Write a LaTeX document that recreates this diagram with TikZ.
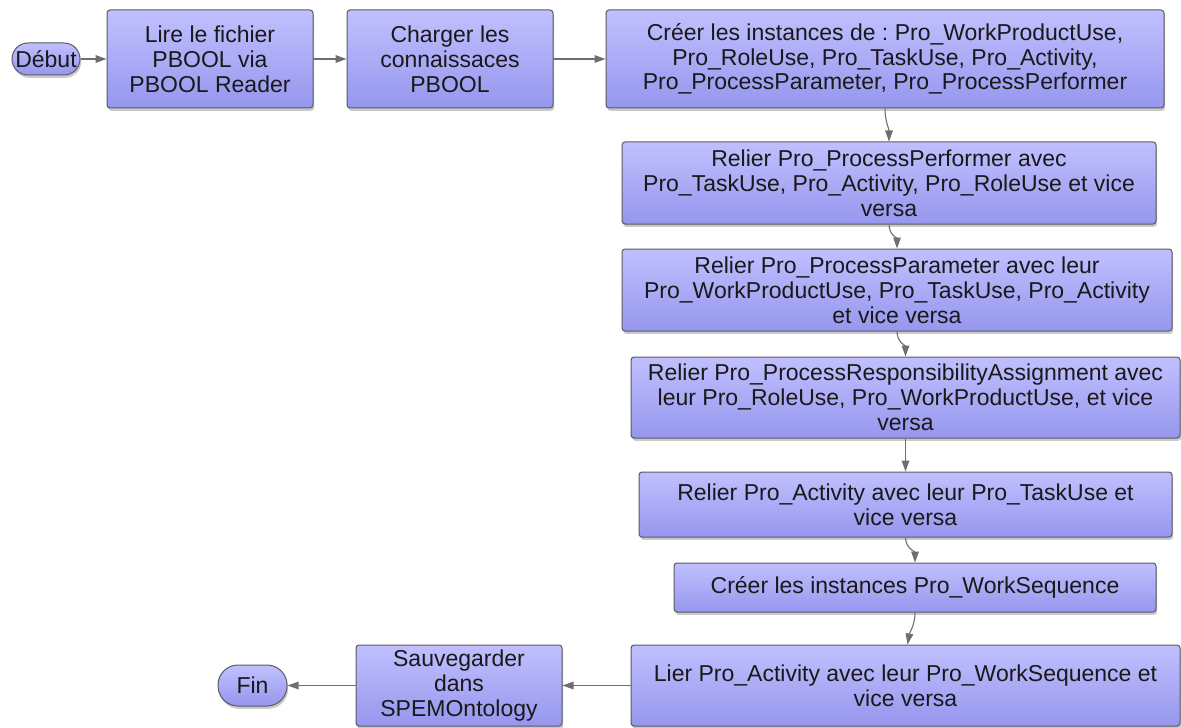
\documentclass[tikz,border=0pt]{standalone}
\usepackage{fontspec}
\setmainfont{Liberation Sans}
\usepackage{tikz}
\usetikzlibrary{arrows.meta,shadows,positioning,calc}
\frenchspacing

\definecolor{boxtop}{RGB}{192,192,255}
\definecolor{boxbot}{RGB}{150,150,238}
\definecolor{boxline}{RGB}{90,90,100}
\definecolor{arrline}{RGB}{110,110,110}

\begin{document}
\begin{tikzpicture}[
    x=0.5pt, y=-0.5pt,
    stepnode/.style={
        draw=boxline,
        top color=boxtop,
        bottom color=boxbot,
        rounded corners=1.5pt,
        line width=0.5pt,
        inner sep=0pt,
        text=black!90,
        font=\fontsize{11.5}{12.4}\selectfont,
        align=center,
        drop shadow={shadow xshift=0.6pt, shadow yshift=-1.4pt, opacity=0.3, fill=black!70}
    },
    termnode/.style={
        stepnode,
        rounded corners=8pt
    },
    arr/.style={
        -{Triangle[length=5.5pt,width=3.8pt]},
        line width=0.55pt,
        draw=arrline
    }
]
    \useasboundingbox (0,0) rectangle (1181,727);

    % Start and first row
    \node[termnode, minimum width=34pt, minimum height=16pt] (debut) at (46,59) {Début};
    \node[stepnode, minimum width=103pt, minimum height=49pt] (lire) at (210,59)
        {Lire le fichier\\PBOOL via\\PBOOL Reader};
    \node[stepnode, minimum width=103pt, minimum height=49pt] (charger) at (450,59)
        {Charger les\\connaissaces\\PBOOL};
    \node[stepnode, minimum width=279pt, minimum height=49pt] (creer) at (885,59)
        {Créer les instances de : Pro\_WorkProductUse,\\Pro\_RoleUse, Pro\_TaskUse, Pro\_Activity,\\Pro\_ProcessParameter, Pro\_ProcessPerformer};

    % Right column
    \node[stepnode, minimum width=267pt, minimum height=41pt] (performer) at (889,183)
        {Relier Pro\_ProcessPerformer avec\\Pro\_TaskUse, Pro\_Activity, Pro\_RoleUse et vice\\versa};
    \node[stepnode, minimum width=275pt, minimum height=41pt] (parameter) at (897,290)
        {Relier Pro\_ProcessParameter avec leur\\Pro\_WorkProductUse, Pro\_TaskUse, Pro\_Activity\\et vice versa};
    \node[stepnode, minimum width=274.5pt, minimum height=40.5pt] (respons) at (905.5,397.5)
        {Relier Pro\_ProcessResponsibilityAssignment avec\\leur Pro\_RoleUse, Pro\_WorkProductUse, et vice\\versa};
    \node[stepnode, minimum width=266.5pt, minimum height=32.5pt] (activity) at (905.5,504.5)
        {Relier Pro\_Activity avec leur Pro\_TaskUse et\\vice versa};
    \node[stepnode, minimum width=241pt, minimum height=24.5pt] (sequence) at (915,587.5)
        {Créer les instances Pro\_WorkSequence};
    \node[stepnode, minimum width=274.5pt, minimum height=40.5pt] (lier) at (905.5,685.5)
        {Lier Pro\_Activity avec leur Pro\_WorkSequence et\\vice versa};

    % Bottom row
    \node[stepnode, minimum width=103pt, minimum height=40.5pt] (sauve) at (459,685.5)
        {Sauvegarder\\dans\\SPEMOntology};
    \node[termnode, rounded corners=10pt, minimum width=34.5pt, minimum height=20.5pt] (fin) at (252.5,685.5) {Fin};

    % Flow
    \draw[arr] (debut) -- (lire);
    \draw[arr] (lire) -- (charger);
    \draw[arr] (charger) -- (creer);
    \draw[arr] (creer.south) to[out=-90, in=90] (performer.north);
    \draw[arr] (performer.south) to[out=-90, in=90] (parameter.north);
    \draw[arr] (parameter.south) to[out=-90, in=90] (respons.north);
    \draw[arr] (respons.south) -- (activity.north);
    \draw[arr] (activity.south) to[out=-90, in=90] (sequence.north);
    \draw[arr] (sequence.south) to[out=-90, in=80] ($(lier.north)+(2,0)$);
    \draw[arr] (lier) -- (sauve);
    \draw[arr] (sauve) -- (fin);
\end{tikzpicture}
\end{document}
